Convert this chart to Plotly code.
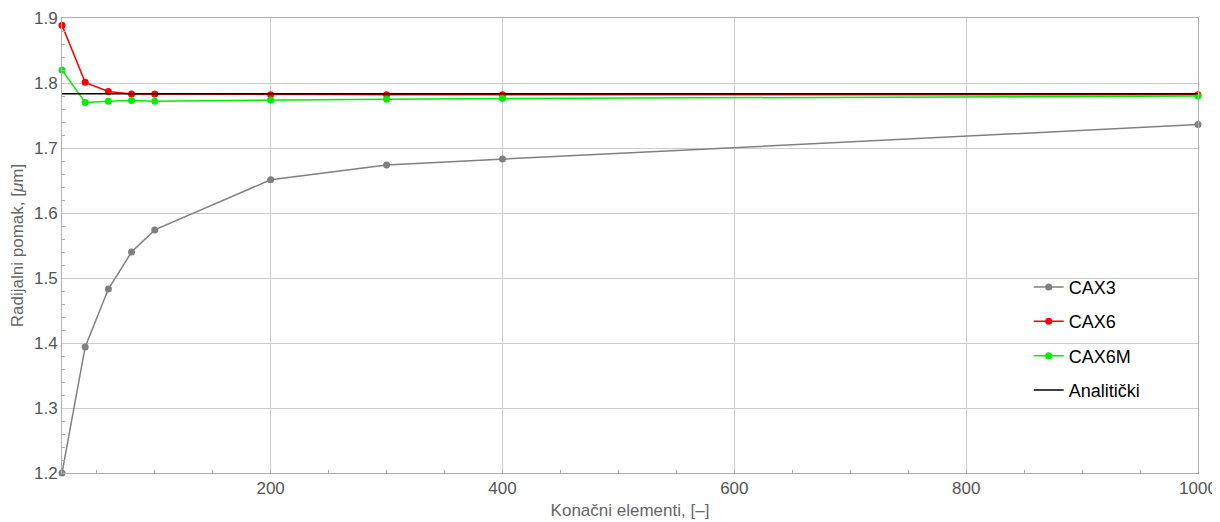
import plotly.graph_objects as go

elements = [20, 40, 60, 80, 100, 200, 300, 400, 1000]
cax3 = [1.200, 1.394, 1.483, 1.540, 1.574, 1.651, 1.674, 1.683, 1.736]
cax6 = [1.889, 1.801, 1.787, 1.783, 1.783, 1.782, 1.782, 1.782, 1.782]
cax6m = [1.820, 1.770, 1.772, 1.773, 1.772, 1.774, 1.775, 1.776, 1.780]
analytic_x = [20, 1000]
analytic_y = [1.7835, 1.7835]

FONT = "Liberation Sans, Arial"

fig = go.Figure()
fig.add_trace(go.Scatter(x=elements, y=cax3, name="CAX3", mode="lines+markers", legendgroup="a",
                         line=dict(color="#808080", width=1.5), marker=dict(size=7, color="#808080"),
                         cliponaxis=False))
fig.add_trace(go.Scatter(x=elements, y=cax6, name="CAX6", mode="lines+markers", legendgroup="b",
                         line=dict(color="#ff0000", width=1.5), marker=dict(size=7, color="#ff0000"),
                         cliponaxis=False))
fig.add_trace(go.Scatter(x=elements, y=cax6m, name="CAX6M", mode="lines+markers", legendgroup="c",
                         line=dict(color="#00ee00", width=1.5), marker=dict(size=7, color="#00ee00"),
                         cliponaxis=False))
fig.add_trace(go.Scatter(x=analytic_x, y=analytic_y, name="Analitički", mode="lines", legendgroup="d",
                         line=dict(color="#000000", width=1.5)))

axis_common = dict(showline=True, linecolor="#b0b0b0", linewidth=1, mirror=True,
                   showgrid=True, gridcolor="#cccccc", gridwidth=1, zeroline=False,
                   ticks="", automargin=False,
                   tickfont=dict(family=FONT, size=17, color="#555555"),
                   minor=dict(ticks="inside", ticklen=3, tickcolor="#b0b0b0", showgrid=False))

fig.update_xaxes(range=[20, 1000], tickvals=[200, 400, 600, 800, 1000],
                 title=dict(text="Konačni elementi, [–]", font=dict(family=FONT, size=17, color="#666666"), standoff=6),
                 **axis_common)
fig.update_yaxes(range=[1.2, 1.9], dtick=0.1, tickformat=".1f",
                 title=dict(text="Radijalni pomak, [<i>μ</i>m]", font=dict(family=FONT, size=17, color="#666666"), standoff=6),
                 **axis_common)

fig.update_layout(width=1220, height=522, plot_bgcolor="white", paper_bgcolor="white",
                  margin=dict(l=54, r=30, t=10, b=57),
                  legend=dict(x=0.851, y=0.449, xanchor="left", yanchor="top",
                              font=dict(family=FONT, size=18, color="#000000"),
                              tracegroupgap=8, bgcolor="rgba(0,0,0,0)", itemwidth=30),
                  showlegend=True)

fig.write_html("out.html")
